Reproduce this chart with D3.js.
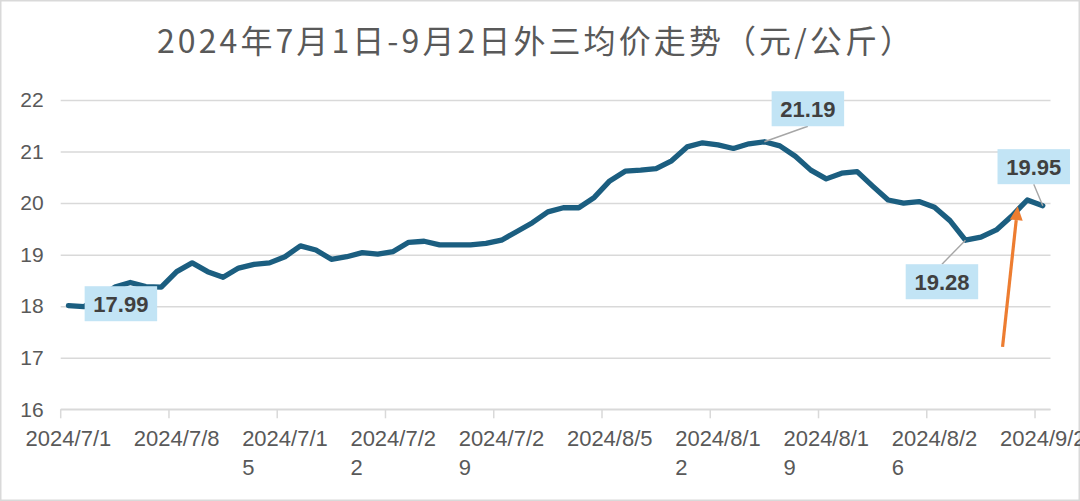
<!DOCTYPE html>
<html><head><meta charset="utf-8">
<script src="https://cdn.jsdelivr.net/npm/d3@7"></script>
<style>html,body{margin:0;padding:0;background:#fff;}svg{display:block;}</style>
</head><body>
<svg id="chart" width="1080" height="501"></svg>
<script>
const title = "2024年7月1日-9月2日外三均价走势（元/公斤）";
const dates = [
"2024/7/1","2024/7/2","2024/7/3","2024/7/4","2024/7/5","2024/7/6","2024/7/7","2024/7/8","2024/7/9","2024/7/10",
"2024/7/11","2024/7/12","2024/7/13","2024/7/14","2024/7/15","2024/7/16","2024/7/17","2024/7/18","2024/7/19","2024/7/20",
"2024/7/21","2024/7/22","2024/7/23","2024/7/24","2024/7/25","2024/7/26","2024/7/27","2024/7/28","2024/7/29","2024/7/30",
"2024/7/31","2024/8/1","2024/8/2","2024/8/3","2024/8/4","2024/8/5","2024/8/6","2024/8/7","2024/8/8","2024/8/9",
"2024/8/10","2024/8/11","2024/8/12","2024/8/13","2024/8/14","2024/8/15","2024/8/16","2024/8/17","2024/8/18","2024/8/19",
"2024/8/20","2024/8/21","2024/8/22","2024/8/23","2024/8/24","2024/8/25","2024/8/26","2024/8/27","2024/8/28","2024/8/29",
"2024/8/30","2024/8/31","2024/9/1","2024/9/2"];
const prices = [
18.01,17.99,18.18,18.37,18.46,18.38,18.37,18.67,18.84,18.67,
18.56,18.74,18.81,18.84,18.96,19.17,19.09,18.91,18.96,19.04,
19.01,19.06,19.24,19.26,19.19,19.19,19.19,19.22,19.28,19.45,
19.62,19.83,19.91,19.91,20.11,20.43,20.62,20.64,20.67,20.82,
21.09,21.17,21.13,21.06,21.15,21.19,21.11,20.91,20.64,20.47,
20.58,20.61,20.33,20.06,20.00,20.03,19.92,19.66,19.28,19.34,
19.48,19.75,20.06,19.95];
const xTickDates = ["2024/7/1","2024/7/8","2024/7/15","2024/7/22","2024/7/29","2024/8/5","2024/8/12","2024/8/19","2024/8/26","2024/9/2"];
const yTicks = [16,17,18,19,20,21,22];
const labelledDates = ["2024/7/2","2024/8/15","2024/8/28","2024/9/2"];
// annotation arrow (index position, value)
const arrowTail = [60.4, 17.21];
const arrowTip = [61.38, 19.94];

// layout / style config
const plot = {left:60.7, right:1050.5, top:100, bottom:409.3};
const labelOffsets = {
  "2024/7/2":  {dx:37,  dy:-3,  leader:false},
  "2024/8/15": {dx:43.5,dy:-33, leader:true},
  "2024/8/28": {dx:-23.5,dy:41.5, leader:true},
  "2024/9/2":  {dx:-9,  dy:-39, leader:true}
};
const lineColor = "#1b5e80";
const gridColor = "#d9d9d9";
const textColor = "#595959";

const svg = d3.select("#chart");
svg.append("rect").attr("x",0.75).attr("y",0.75).attr("width",1078.5).attr("height",499.5)
  .attr("fill","#fff").attr("stroke",gridColor).attr("stroke-width",1.5);

const x = d3.scaleBand().domain(dates).range([plot.left, plot.right]).padding(0);
const bw = x.bandwidth();
const cx = d => x(d) + bw/2;
const xIdx = i => plot.left + x.step()*(i+0.5);
const y = d3.scaleLinear().domain([16,22]).range([plot.bottom, plot.top]);

// title
svg.append("text").attr("x",534.5).attr("y",53).attr("text-anchor","middle")
  .attr("font-family","'Noto Sans CJK SC','Noto Sans',sans-serif").attr("font-size",32)
  .attr("textLength",755).attr("lengthAdjust","spacing")
  .attr("fill",textColor).text(title);

// y axis + gridlines
const yAxis = svg.append("g").attr("transform",`translate(${plot.left},0)`)
  .call(d3.axisLeft(y).tickValues(yTicks).tickSize(-(plot.right-plot.left)).tickPadding(17).tickFormat(d3.format("d")));
yAxis.select(".domain").remove();
yAxis.selectAll(".tick line").attr("stroke",gridColor).attr("stroke-width",1.5);
yAxis.selectAll(".tick text").attr("fill",textColor).attr("font-family","'Liberation Sans',Arial,sans-serif").attr("font-size",21);

// x axis
const xg = svg.append("g");
xg.append("line").attr("x1",plot.left).attr("x2",plot.right).attr("y1",y(16)).attr("y2",y(16))
  .attr("stroke",gridColor).attr("stroke-width",1.5);
xTickDates.forEach(d => {
  xg.append("line").attr("x1",x(d)).attr("x2",x(d)).attr("y1",y(16)).attr("y2",y(16)+9)
    .attr("stroke",gridColor).attr("stroke-width",1.5);
  const first = d.slice(0,8), rest = d.slice(8);
  const t = xg.append("text").attr("x",cx(d)).attr("y",446).attr("text-anchor","middle")
    .attr("font-family","'Liberation Sans',Arial,sans-serif").attr("font-size",22)
    .attr("fill",textColor).text(first);
  if (rest) {
    const bb = t.node().getBBox();
    xg.append("text").attr("x",bb.x).attr("y",475).attr("text-anchor","start")
      .attr("font-family","'Liberation Sans',Arial,sans-serif").attr("font-size",22)
      .attr("fill",textColor).text(rest);
  }
});

// line
const line = d3.line().x((v,i)=>cx(dates[i])).y(v=>y(v));
svg.append("path").datum(prices).attr("d",line).attr("fill","none")
  .attr("stroke",lineColor).attr("stroke-width",5.3).attr("stroke-linejoin","round").attr("stroke-linecap","round");

// data labels
labelledDates.forEach(d => {
  const i = dates.indexOf(d), v = prices[i];
  const px = cx(d), py = y(v);
  const o = labelOffsets[d];
  const bx = px + o.dx, by = py + o.dy;
  const w = 72.5, h = 35;
  if (o.leader) {
    const ey = o.dy < 0 ? by + h/2 : by - h/2;
    svg.append("line").attr("x1",bx).attr("y1",ey).attr("x2",px).attr("y2",py)
      .attr("stroke","#a6a6a6").attr("stroke-width",1.4);
  }
  svg.append("rect").attr("x",bx-w/2).attr("y",by-h/2).attr("width",w).attr("height",h).attr("fill","#c2e4f5");
  svg.append("text").attr("x",bx).attr("y",by+8).attr("text-anchor","middle")
    .attr("font-family","'Liberation Sans',Arial,sans-serif").attr("font-size",22).attr("font-weight","bold")
    .attr("fill","#404040").text(v.toFixed(2));
});

// orange arrow annotation
const tx = xIdx(arrowTail[0]), ty = y(arrowTail[1]);
const hx = xIdx(arrowTip[0]), hy = y(arrowTip[1]);
const ang = Math.atan2(hy-ty, hx-tx);
const L = 14, hw = 6.5;
const bxA = hx - L*Math.cos(ang), byA = hy - L*Math.sin(ang);
svg.append("line").attr("x1",tx).attr("y1",ty).attr("x2",bxA).attr("y2",byA)
  .attr("stroke","#ed7d31").attr("stroke-width",3.2);
svg.append("polygon").attr("fill","#ed7d31").attr("points",[
  [hx,hy],
  [bxA + hw*Math.sin(ang), byA - hw*Math.cos(ang)],
  [bxA - hw*Math.sin(ang), byA + hw*Math.cos(ang)]
].map(p=>p.join(",")).join(" "));
</script>
</body></html>
